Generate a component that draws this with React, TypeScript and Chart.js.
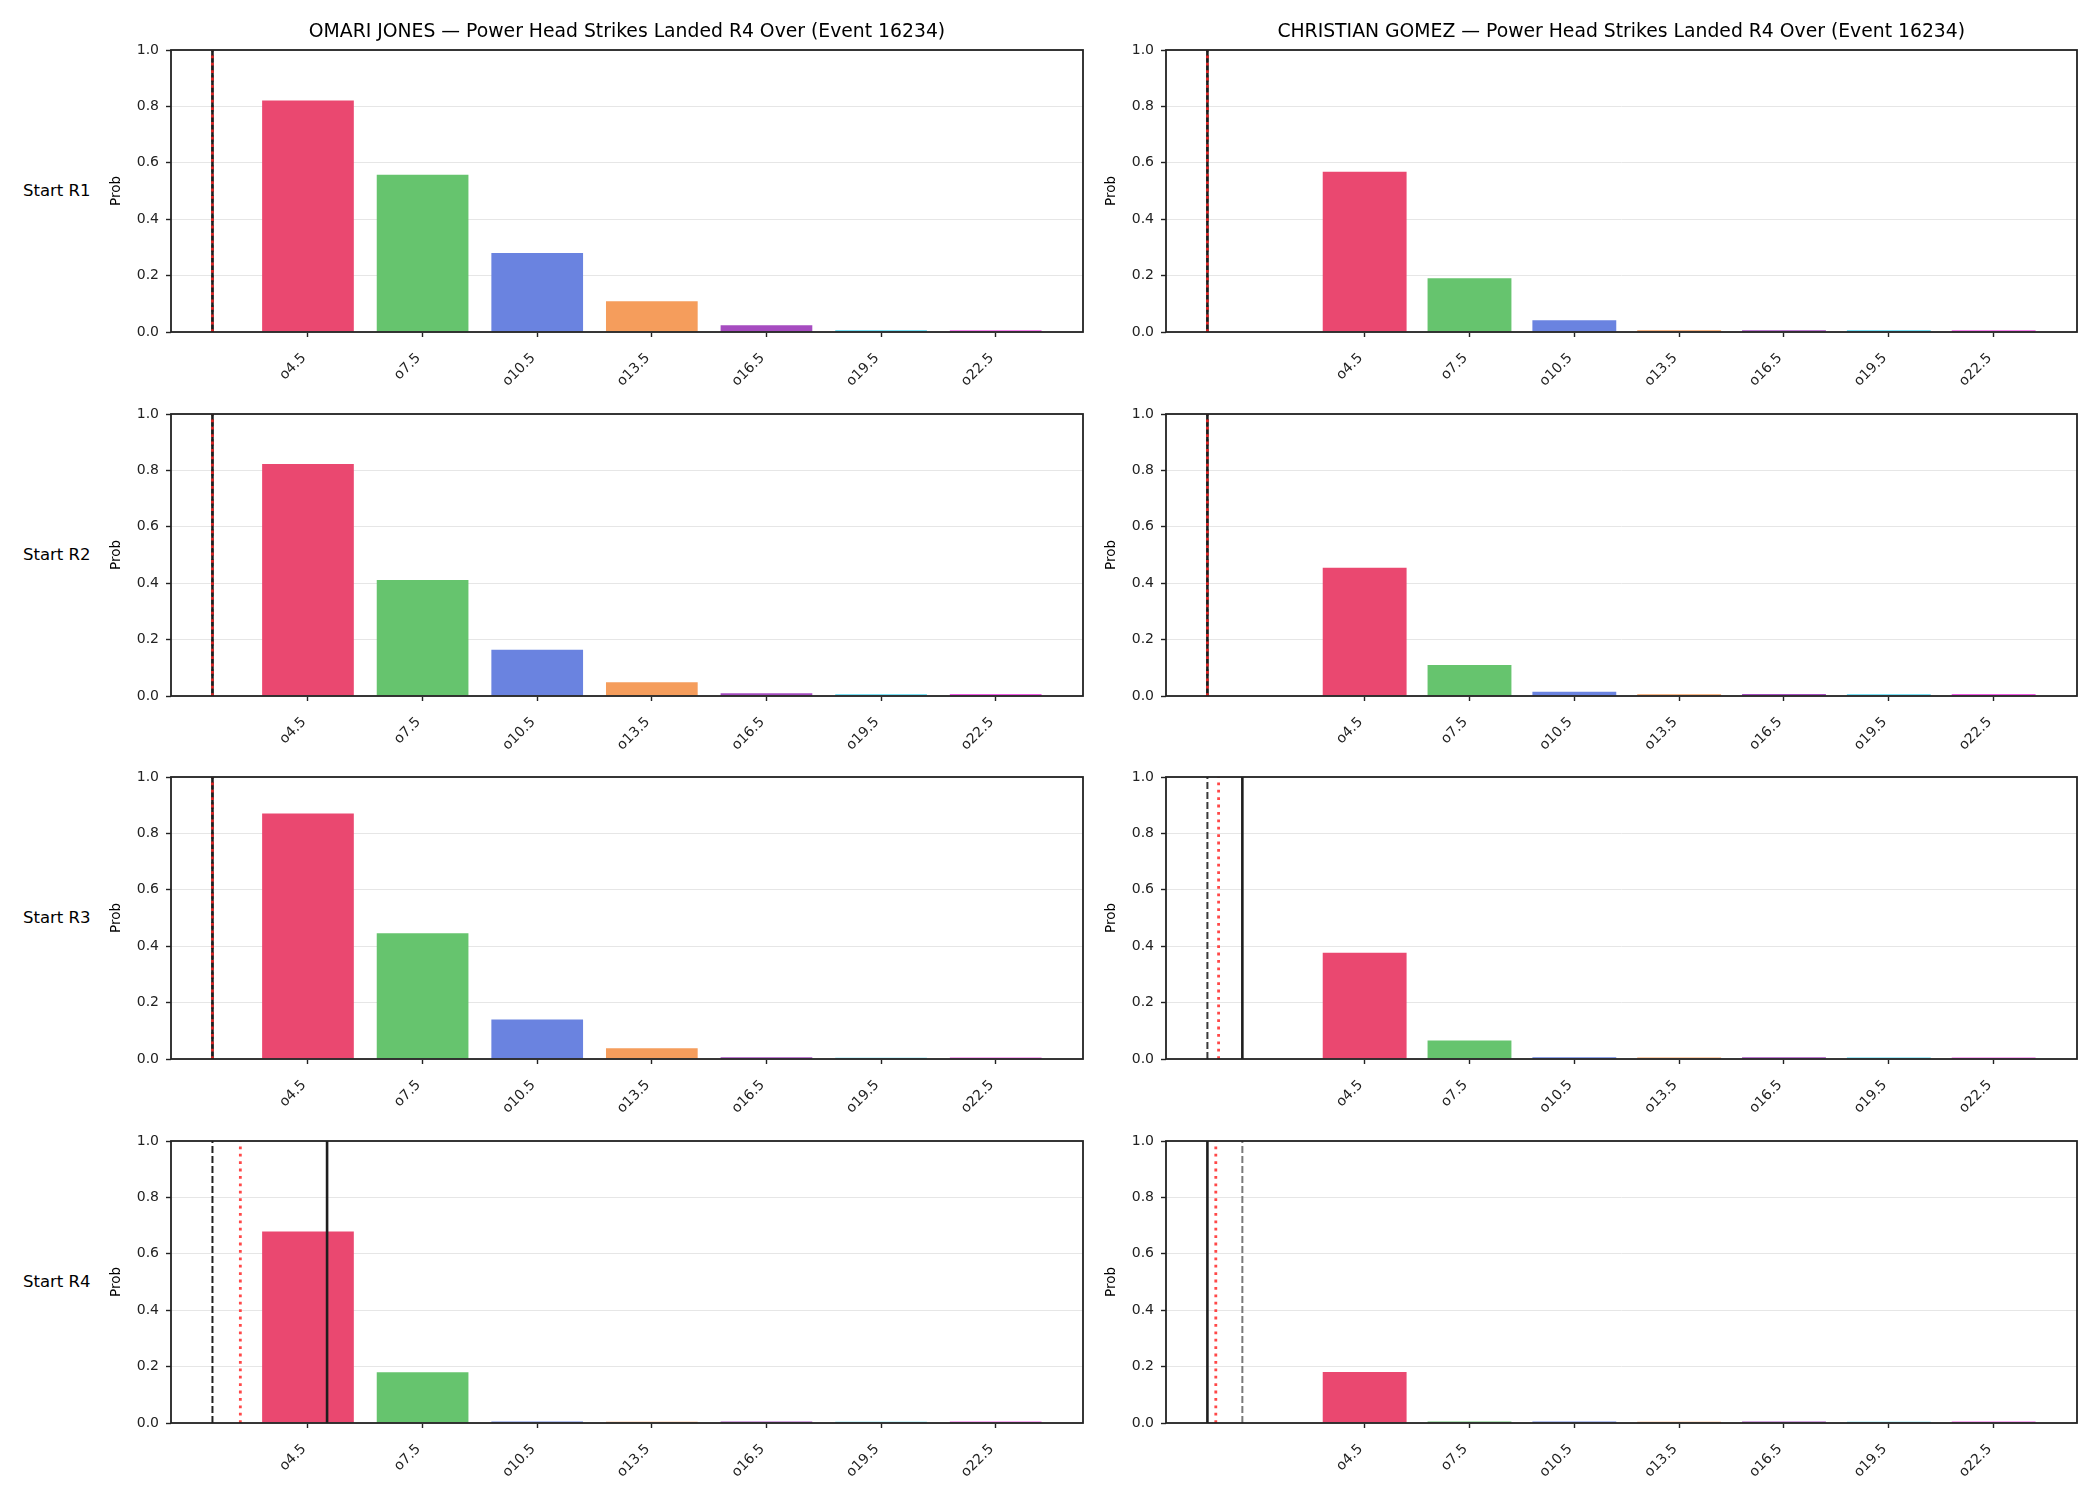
import React, { useEffect, useRef } from 'react';
import Chart from 'chart.js/auto';

// ---------- data ----------
const categories = ['o4.5', 'o7.5', 'o10.5', 'o13.5', 'o16.5', 'o19.5', 'o22.5'];
const thresholds = [4.5, 7.5, 10.5, 13.5, 16.5, 19.5, 22.5];
const barColors = ['#EA4870', '#66C46E', '#6A83E0', '#F59D5C', '#A64CC0', '#4DD6F0', '#F05AE6'];
const yTicks = [0, 0.2, 0.4, 0.6, 0.8, 1.0];
const fighters = ['OMARI JONES', 'CHRISTIAN GOMEZ'];
const marketTitle = 'Power Head Strikes Landed R4 Over (Event 16234)';
const rowLabels = ['Start R1', 'Start R2', 'Start R3', 'Start R4'];

const jonesR1 = [0.821, 0.558, 0.28, 0.109, 0.024, 0.006, 0.006];
const jonesR2 = [0.823, 0.411, 0.164, 0.049, 0.01, 0.006, 0.007];
const jonesR3 = [0.871, 0.446, 0.14, 0.038, 0.006, 0.004, 0.005];
const jonesR4 = [0.679, 0.18, 0.005, 0.004, 0.005, 0.004, 0.005];
const gomezR1 = [0.568, 0.191, 0.042, 0.006, 0.006, 0.006, 0.006];
const gomezR2 = [0.455, 0.11, 0.015, 0.006, 0.007, 0.006, 0.007];
const gomezR3 = [0.377, 0.066, 0.006, 0.005, 0.006, 0.005, 0.005];
const gomezR4 = [0.181, 0.005, 0.005, 0.004, 0.005, 0.004, 0.005];

// vertical reference lines (x in strike units)
const jonesSolid = [2, 2, 2, 5];
const jonesDashed = [2, 2, 2, 2];
const jonesDotted = [2, 2, 2, 2.73];
const gomezSolid = [0, 0, 1, 0];
const gomezDashed = [0, 0, 0, 1];
const gomezDotted = [0, 0, 0.32, 0.24];
const jonesDashedColors = ['#222222', '#222222', '#222222', '#222222'];
const gomezDashedColors = ['#222222', '#222222', '#3a3a3a', '#7a7a7a'];

// ---------- layout ----------
const FONT = 'DejaVu Sans';
const TICK_SIZE = 14;
const PLOT_LEFT = [171, 1165.5];
const PLOT_W = [912, 911.5];
const PLOT_TOP0 = 50;
const ROW_PITCH = 363.6;
const PLOT_H = 282;
const PAD_L = 60;
const PAD_R = 20;
const PAD_T = 20;
const X_AXIS_H = 76;

const spinePlugin = {
  id: 'spines',
  afterDraw(chart: any) {
    const { ctx, chartArea } = chart;
    ctx.save();
    ctx.strokeStyle = '#222222';
    ctx.lineWidth = 1.8;
    ctx.strokeRect(chartArea.left, chartArea.top, chartArea.right - chartArea.left, chartArea.bottom - chartArea.top);
    ctx.restore();
  },
};

type PanelProps = {
  col: number;
  row: number;
  probs: number[];
  solidX: number;
  dashedX: number;
  dottedX: number;
  dashedColor: string;
};

function Panel({ col, row, probs, solidX, dashedX, dottedX, dashedColor }: PanelProps) {
  const ref = useRef<HTMLCanvasElement>(null);
  const plotLeft = PLOT_LEFT[col];
  const plotTop = PLOT_TOP0 + row * ROW_PITCH;
  const width = PLOT_W[col] + PAD_L + PAD_R;
  const height = PLOT_H + PAD_T + X_AXIS_H;

  useEffect(() => {
    if (!ref.current) return;
    // matplotlib-like autoscale: data extent + 5% margins
    const spacing = thresholds[1] - thresholds[0];
    const half = (spacing * 0.8) / 2;
    const xs = [
      ...thresholds.map((t) => t - half),
      ...thresholds.map((t) => t + half),
      solidX,
      dashedX,
      dottedX,
    ];
    const lo = Math.min(...xs);
    const hi = Math.max(...xs);
    const m = (hi - lo) * 0.05;

    const vline = (x: number, color: string, dash: number[], w: number, order: number) => ({
      type: 'line' as const,
      data: [
        { x, y: 0 },
        { x, y: 1 },
      ],
      borderColor: color,
      borderWidth: w,
      borderDash: dash,
      borderCapStyle: 'butt',
      pointRadius: 0,
      fill: false,
      tension: 0,
      order,
    });

    const chart = new Chart(ref.current, {
      type: 'bar',
      data: {
        datasets: [
          {
            type: 'bar',
            data: thresholds.map((t, i) => ({ x: t, y: probs[i] })),
            backgroundColor: barColors,
            borderWidth: 0,
            categoryPercentage: 0.8,
            barPercentage: 1,
            order: 3,
          } as any,
          vline(dashedX, dashedColor, [7, 3], 2, 2) as any,
          vline(solidX, '#1e1e1e', [], 2.6, 1) as any,
          vline(dottedX, 'rgba(255,40,40,0.85)', [2.8, 4.6], 2.8, 0) as any,
        ],
      },
      options: {
        responsive: false,
        animation: false,
        devicePixelRatio: 1,
        layout: { padding: { left: 0, right: PAD_R, top: PAD_T, bottom: 0 } },
        plugins: {
          legend: { display: false },
          tooltip: { enabled: false },
          title: { display: false },
        },
        scales: {
          x: {
            type: 'linear',
            min: lo - m,
            max: hi + m,
            offset: false,
            afterBuildTicks: (s: any) => {
              s.ticks = thresholds.map((v) => ({ value: v }));
            },
            afterFit: (s: any) => {
              s.height = X_AXIS_H;
            },
            ticks: {
              autoSkip: false,
              minRotation: 45,
              maxRotation: 45,
              padding: 13,
              labelOffset: -4,
              color: '#222222',
              font: { family: FONT, size: TICK_SIZE },
              callback: (v: any) => {
                const i = thresholds.indexOf(Number(v));
                return i >= 0 ? categories[i] : '';
              },
            },
            grid: {
              offset: false,
              drawOnChartArea: false,
              drawTicks: true,
              tickLength: 5,
              tickColor: '#222222',
              tickWidth: 1.4,
            },
            border: { display: false },
          },
          y: {
            type: 'linear',
            min: 0,
            max: 1,
            afterBuildTicks: (s: any) => {
              s.ticks = yTicks.map((v) => ({ value: v }));
            },
            afterFit: (s: any) => {
              s.width = PAD_L;
            },
            ticks: {
              padding: 7,
              color: '#222222',
              font: { family: FONT, size: TICK_SIZE },
              callback: (v: any) => Number(v).toFixed(1),
            },
            grid: {
              color: '#e6e6e6',
              lineWidth: 1,
              drawTicks: true,
              tickLength: 5,
              tickColor: '#222222',
              tickWidth: 1.4,
            },
            border: { display: false },
          },
        },
      } as any,
      plugins: [spinePlugin],
    });
    return () => chart.destroy();
  }, [probs, solidX, dashedX, dottedX, dashedColor]);

  return (
    <canvas
      ref={ref}
      width={width}
      height={height}
      style={{
        position: 'absolute',
        left: plotLeft - PAD_L,
        top: plotTop - PAD_T,
        width,
        height,
      }}
    />
  );
}

const jonesRows = [jonesR1, jonesR2, jonesR3, jonesR4];
const gomezRows = [gomezR1, gomezR2, gomezR3, gomezR4];

export default function App() {
  const panels: React.ReactNode[] = [];
  const texts: React.ReactNode[] = [];
  for (let r = 0; r < 4; r++) {
    const plotTop = PLOT_TOP0 + r * ROW_PITCH;
    const center = plotTop + PLOT_H / 2;
    panels.push(
      <Panel
        key={`j${r}`}
        col={0}
        row={r}
        probs={jonesRows[r]}
        solidX={jonesSolid[r]}
        dashedX={jonesDashed[r]}
        dottedX={jonesDotted[r]}
        dashedColor={jonesDashedColors[r]}
      />,
      <Panel
        key={`g${r}`}
        col={1}
        row={r}
        probs={gomezRows[r]}
        solidX={gomezSolid[r]}
        dashedX={gomezDashed[r]}
        dottedX={gomezDotted[r]}
        dashedColor={gomezDashedColors[r]}
      />
    );
    texts.push(
      <div
        key={`rl${r}`}
        style={{ position: 'absolute', left: 23, top: center - 11, fontSize: 16.5, lineHeight: '22px', color: '#000' }}
      >
        {rowLabels[r]}
      </div>
    );
    for (let c = 0; c < 2; c++) {
      texts.push(
        <div
          key={`pl${r}${c}`}
          style={{
            position: 'absolute',
            left: PLOT_LEFT[c] - 56,
            top: center,
            fontSize: 13.5,
            lineHeight: '16px',
            color: '#000',
            transform: 'translate(-50%, -50%) rotate(-90deg)',
            whiteSpace: 'nowrap',
          }}
        >
          Prob
        </div>
      );
    }
  }
  for (let c = 0; c < 2; c++) {
    texts.push(
      <div
        key={`t${c}`}
        style={{
          position: 'absolute',
          left: PLOT_LEFT[c],
          width: PLOT_W[c],
          top: 19,
          textAlign: 'center',
          fontSize: 18.8,
          lineHeight: '24px',
          color: '#000',
          whiteSpace: 'nowrap',
        }}
      >
        {`${fighters[c]} — ${marketTitle}`}
      </div>
    );
  }
  return (
    <div
      style={{
        position: 'absolute',
        left: 0,
        top: 0,
        width: 2100,
        height: 1500,
        background: '#ffffff',
        fontFamily: FONT,
        overflow: 'hidden',
      }}
    >
      {panels}
      {texts}
    </div>
  );
}
